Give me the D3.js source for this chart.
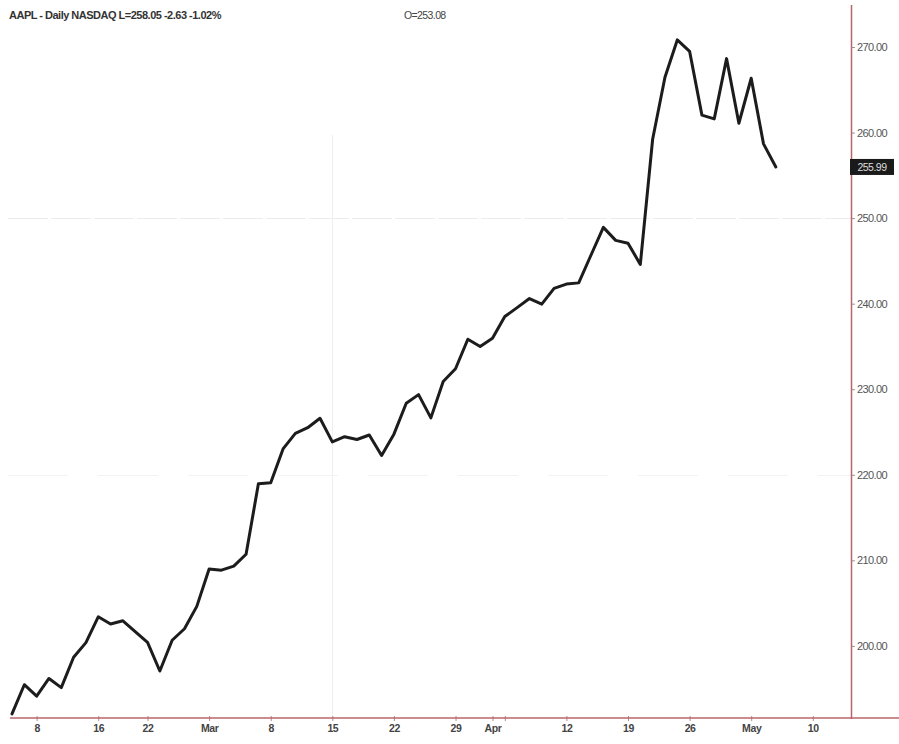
<!DOCTYPE html>
<html>
<head>
<meta charset="utf-8">
<script src="https://cdn.jsdelivr.net/npm/d3@7/dist/d3.min.js"></script>
<style>
html,body{margin:0;padding:0;background:#fff;}
svg{display:block;}
</style>
</head>
<body>
<svg id="chart" width="899" height="744"></svg>
<script>
// ---- data ----
const dates = ["2010-02-04","2010-02-05","2010-02-08","2010-02-09","2010-02-10","2010-02-11","2010-02-12",
"2010-02-16","2010-02-17","2010-02-18","2010-02-19","2010-02-22","2010-02-23","2010-02-24","2010-02-25","2010-02-26",
"2010-03-01","2010-03-02","2010-03-03","2010-03-04","2010-03-05","2010-03-08","2010-03-09","2010-03-10","2010-03-11","2010-03-12",
"2010-03-15","2010-03-16","2010-03-17","2010-03-18","2010-03-19","2010-03-22","2010-03-23","2010-03-24","2010-03-25","2010-03-26",
"2010-03-29","2010-03-30","2010-03-31","2010-04-01","2010-04-05","2010-04-06","2010-04-07","2010-04-08","2010-04-09",
"2010-04-12","2010-04-13","2010-04-14","2010-04-15","2010-04-16","2010-04-19","2010-04-20","2010-04-21","2010-04-22","2010-04-23",
"2010-04-26","2010-04-27","2010-04-28","2010-04-29","2010-04-30","2010-05-03","2010-05-04","2010-05-05"];
const closes = [192.05,195.46,194.12,196.19,195.12,198.67,200.38,
203.40,202.55,202.93,201.67,200.42,197.06,200.66,202.00,204.62,
208.99,208.85,209.33,210.71,218.95,219.08,223.02,224.84,225.50,226.60,
223.84,224.45,224.12,224.65,222.25,224.75,228.36,229.37,226.65,230.90,
232.39,235.84,235.00,235.97,238.49,239.54,240.60,239.95,241.79,
242.29,242.43,245.69,248.92,247.40,247.07,244.59,259.22,266.47,270.83,
269.50,262.04,261.60,268.64,261.09,266.35,258.68,255.98];
const xTickIndex = [2,7,11,16,21,26,31,36,39,40,45,50,55,60,65];
const xTickLabels = ["8","16","22","Mar","8","15","22","29","Apr","","12","19","26","May","10"];
const yTicks = [200,210,220,230,240,250,260,270];
const lastLabel = "255.99";
const titleText = "AAPL - Daily NASDAQ L=258.05 -2.63 -1.02%";
const openText = "O=253.08";

// ---- layout ----
const svg = d3.select("#chart");
const axisX = 851, axisBottom = 718, axisTop = 5;
const axisColor = "#b8666a";

const x = d3.scaleLinear().domain([0, 65]).range([12, 812.8]);
const y = d3.scaleLinear().domain([191.57, 274.91]).range([axisBottom, axisTop]);

// faint grid
const grid = svg.append("g").attr("stroke", "#ececec").attr("stroke-width", 1);
grid.append("line").attr("x1", 8).attr("x2", axisX).attr("y1", Math.round(y(250)) + 0.5).attr("y2", Math.round(y(250)) + 0.5).attr("stroke-dasharray", "40,3");
grid.append("line").attr("x1", 8).attr("x2", axisX).attr("y1", Math.round(y(220)) + 0.5).attr("y2", Math.round(y(220)) + 0.5).attr("stroke", "#f3f3f3").attr("stroke-dasharray", "60,30");
grid.append("line").attr("x1", Math.round(x(26)) + 0.5).attr("x2", Math.round(x(26)) + 0.5).attr("y1", 135).attr("y2", axisBottom).attr("stroke", "#efefef");

// y axis
const yAxis = d3.axisRight(y).tickValues(yTicks).tickSize(4).tickFormat(d3.format(".2f"));
const gy = svg.append("g").attr("transform", `translate(${axisX},0)`).call(yAxis);
gy.select(".domain").remove();
gy.selectAll(".tick line").attr("stroke", "#999");
gy.selectAll(".tick text").attr("x", 6).attr("fill", "#555")
  .style("font-family", "Liberation Sans, Arial, sans-serif").style("font-size", "11px").style("letter-spacing", "-0.6px");
svg.append("line").attr("x1", axisX + 0.5).attr("x2", axisX + 0.5).attr("y1", axisTop).attr("y2", axisBottom + 1)
  .attr("stroke", axisColor).attr("stroke-width", 1.5);

// x axis
const xAxis = d3.axisBottom(x).tickValues(xTickIndex).tickSize(4)
  .tickFormat((d, i) => xTickLabels[i]);
const gx = svg.append("g").attr("transform", `translate(0,${axisBottom})`).call(xAxis);
gx.select(".domain").remove();
gx.selectAll(".tick line").attr("stroke", "#b88").attr("y1", -2).attr("y2", 3);
gx.selectAll(".tick text").attr("y", 7).attr("fill", "#444")
  .style("font-family", "Liberation Sans, Arial, sans-serif").style("font-size", "10.5px").style("font-weight", "bold").style("letter-spacing", "-0.4px");
svg.append("line").attr("x1", 10).attr("x2", 899).attr("y1", axisBottom).attr("y2", axisBottom)
  .attr("stroke", axisColor).attr("stroke-width", 1.5);

// price line
const line = d3.line().x((d, i) => x(i)).y(d => y(d));
svg.append("path").datum(closes).attr("d", line)
  .attr("fill", "none").attr("stroke", "#1c1c1c").attr("stroke-width", 3)
  .attr("stroke-linejoin", "round").attr("stroke-linecap", "round");

// last price label
const ly = y(closes[closes.length - 1]);
svg.append("rect").attr("x", axisX - 1).attr("y", ly - 8).attr("width", 44).attr("height", 16).attr("fill", "#1a1a1a");
svg.append("text").attr("x", axisX + 21).attr("y", ly + 4).attr("text-anchor", "middle")
  .attr("fill", "#ddd").style("font-family", "Liberation Sans, Arial, sans-serif").style("font-size", "10.5px").style("letter-spacing", "-0.5px")
  .text(lastLabel);

// title
svg.append("text").attr("x", 9).attr("y", 19).attr("fill", "#333")
  .style("font-family", "Liberation Sans, Arial, sans-serif").style("font-size", "11px").style("font-weight", "bold").style("letter-spacing", "-0.5px")
  .text(titleText);
svg.append("text").attr("x", 404).attr("y", 19).attr("fill", "#444")
  .style("font-family", "Liberation Sans, Arial, sans-serif").style("font-size", "10.5px").style("letter-spacing", "-0.6px")
  .text(openText);
</script>
</body>
</html>
